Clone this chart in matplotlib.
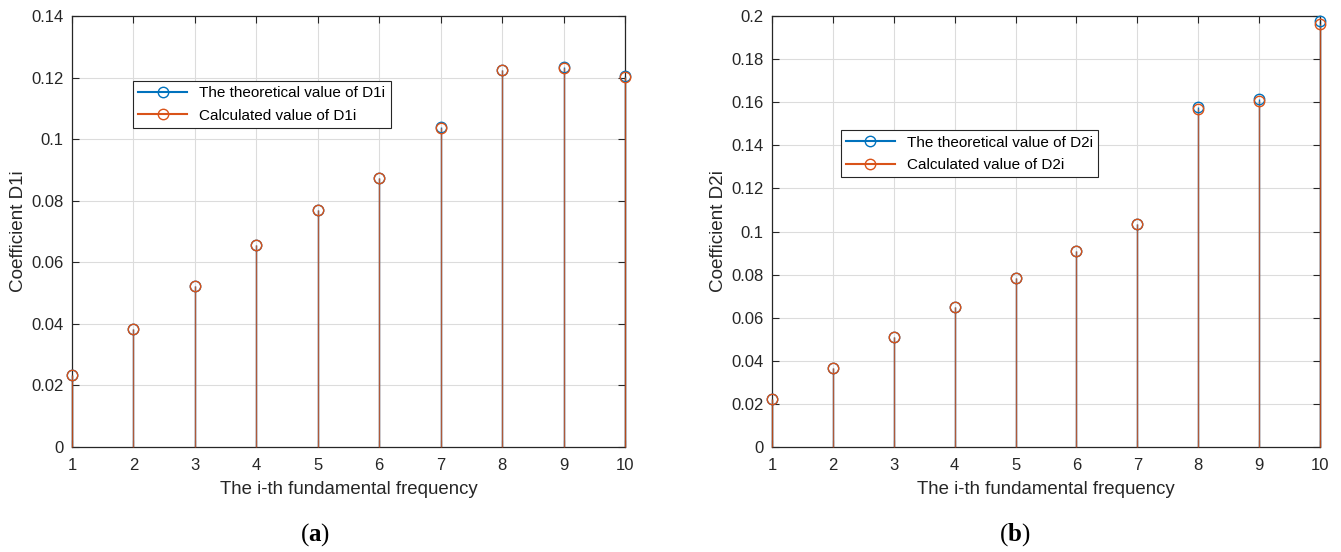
import matplotlib
matplotlib.use("Agg")
import matplotlib.pyplot as plt
import numpy as np

plt.rcParams['font.family'] = ['Liberation Sans', 'DejaVu Sans']
plt.rcParams['mathtext.fontset'] = 'custom'
plt.rcParams['mathtext.rm'] = 'Liberation Serif'
plt.rcParams['mathtext.bf'] = 'Liberation Serif:bold'

idx = [1, 2, 3, 4, 5, 6, 7, 8, 9, 10]
d1_theory = [0.0234, 0.0383, 0.0523, 0.0655, 0.0771, 0.0874, 0.1038, 0.1226, 0.1234, 0.1204]
d1_calc = [0.0234, 0.0383, 0.0523, 0.0655, 0.0771, 0.0874, 0.1037, 0.1223, 0.1232, 0.1202]
d2_theory = [0.0223, 0.0367, 0.0510, 0.0650, 0.0784, 0.0911, 0.1034, 0.1578, 0.1614, 0.1975]
d2_calc = [0.0222, 0.0366, 0.0509, 0.0648, 0.0783, 0.0910, 0.1033, 0.1570, 0.1605, 0.1965]

BLUE = '#0072BD'
ORANGE = '#D95319'

fig = plt.figure(figsize=(13.41, 5.52), dpi=100)

def stem_panel(ax, th, ca, lab, ylim, yticks, legend_pos):
    x = np.array(idx)
    ax.vlines(x, 0, th, color=BLUE, lw=1.0, zorder=2, clip_on=False)
    ax.vlines(x, 0, ca, color=ORANGE, lw=1.0, alpha=0.8, zorder=3, clip_on=False)
    ax.plot(x, th, 'o', mfc='none', mec=BLUE, ms=7.5, mew=1.0, zorder=4, clip_on=False)
    ax.plot(x, ca, 'o', mfc='none', mec=ORANGE, ms=7.5, mew=1.0, zorder=5, clip_on=False)
    h1, = ax.plot([], [], '-o', color=BLUE, mfc='none', ms=7.5, mew=1.0)
    h2, = ax.plot([], [], '-o', color=ORANGE, mfc='none', ms=7.5, mew=1.0)
    ax.set_xlim(1, 10)
    ax.set_ylim(*ylim)
    ax.set_xticks(idx)
    ax.set_yticks(yticks)
    ax.set_yticklabels([('%g' % v) for v in yticks])
    ax.grid(True, color='#dcdcdc', lw=0.8)
    ax.set_axisbelow(True)
    ax.tick_params(direction='in', top=True, right=True, labelsize=12, length=5,
                   colors='#262626', pad=6)
    ax.tick_params(axis='x', pad=8)
    for s in ax.spines.values():
        s.set_color('#262626')
        s.set_linewidth(0.9)
    ax.set_xlabel('The i-th fundamental frequency', fontsize=13.4, color='#262626', labelpad=6)
    ax.set_ylabel('Coefficient ' + lab, fontsize=13.6, color='#262626', labelpad=3)
    leg = ax.legend([h1, h2], ['The theoretical value of ' + lab, 'Calculated value of ' + lab],
                    loc='upper left', bbox_to_anchor=legend_pos, fontsize=11,
                    frameon=True, fancybox=False, edgecolor='#262626', framealpha=1,
                    handlelength=3.2, borderpad=0.35, labelspacing=0.55, borderaxespad=0)
    leg.get_frame().set_linewidth(0.8)

ax1 = fig.add_axes([0.0537, 0.1902, 0.4124, 0.7808])
stem_panel(ax1, d1_theory, d1_calc, 'D1i', (0, 0.14),
           [0, 0.02, 0.04, 0.06, 0.08, 0.1, 0.12, 0.14], (0.110, 0.849))
ax2 = fig.add_axes([0.5757, 0.1902, 0.4087, 0.7808])
stem_panel(ax2, d2_theory, d2_calc, 'D2i', (0, 0.2),
           [0, 0.02, 0.04, 0.06, 0.08, 0.1, 0.12, 0.14, 0.16, 0.18, 0.2], (0.125, 0.735))

fig.text(315 / 1341, 1 - 535 / 552, r'($\mathbf{a}$)', ha='center', va='center', fontsize=18,
         family='Liberation Serif')
fig.text(1015 / 1341, 1 - 535 / 552, r'($\mathbf{b}$)', ha='center', va='center', fontsize=18,
         family='Liberation Serif')

fig.savefig('out.png', dpi=100)
